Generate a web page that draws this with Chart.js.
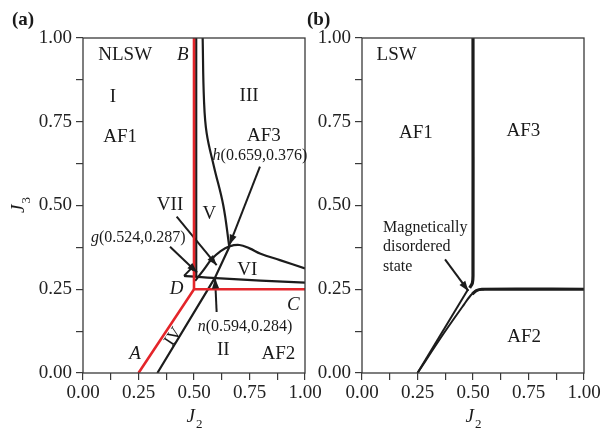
<!DOCTYPE html>
<html>
<head>
<meta charset="utf-8">
<script src="https://cdn.jsdelivr.net/npm/chart.js@4.4.1/dist/chart.umd.min.js"></script>
<style>
  body { margin: 0; background: #fff; width: 606px; height: 431px; position: relative; overflow: hidden; }
  canvas { position: absolute; top: 0; }
  #chartA { left: 0; }
  #chartB { left: 300px; }
</style>
</head>
<body>
<canvas id="chartA" width="330" height="431"></canvas>
<canvas id="chartB" width="306" height="431"></canvas>
<script>
// ---------------------------------------------------------------
// data (J2, J3)
// ---------------------------------------------------------------
const tickValues = [0, 0.125, 0.25, 0.375, 0.5, 0.625, 0.75, 0.875, 1];

// (a) classical boundaries (red)
const redADC = [[0.25, 0], [0.5, 0.25], [1, 0.25]];
const redDB  = [[0.5, 0.25], [0.5, 1]];

// (a) NLSW boundaries (black)
const nlswDiag   = [[0.335, 0], [0.594, 0.284], [0.659, 0.376]];
const nlswTop    = [[0.659, 0.376], [0.632, 0.5], [0.59, 0.616], [0.557, 0.716], [0.545, 0.815], [0.539, 1]];
const nlswVert   = [[0.51, 1], [0.51, 0.288]];
const nlswTri    = [[0.455, 0.29], [0.487, 0.312], [0.51, 0.3]];
const nlswVIlow  = [[0.455, 0.29], [0.6, 0.283], [0.8, 0.276], [1, 0.27]];
const nlswVIhigh = [[0.505, 0.275], [0.54, 0.305], [0.58, 0.34], [0.62, 0.364], [0.66, 0.378], [0.705, 0.382], [0.75, 0.372], [0.8, 0.356], [0.887, 0.337], [1, 0.312]];

// (a) label pointers
const arrowH   = [[0.797, 0.616], [0.66, 0.383]];
const arrowVII = [[0.422, 0.467], [0.602, 0.322]];
const arrowG   = [[0.392, 0.377], [0.514, 0.3]];
const arrowN   = [[0.602, 0.182], [0.595, 0.282]];

// (b) LSW boundaries
const lswVert  = [[0.5, 1], [0.5, 0.29], [0.497, 0.268], [0.485, 0.254]];
const lswHoriz = [[1, 0.25], [0.54, 0.25], [0.515, 0.246], [0.497, 0.236]];
const lswDiagL = [[0.25, 0], [0.478, 0.25]];
const lswDiagR = [[0.25, 0], [0.37, 0.12], [0.46, 0.205], [0.49, 0.232], [0.515, 0.246], [0.55, 0.25]];
const arrowMag = [[0.374, 0.339], [0.479, 0.245]];

const RED = "#e4252a";
const BLACK = "#1c1c1c";
const SERIF = "'Liberation Serif', 'Times New Roman', serif";

function pts(arr) { return arr.map(p => ({ x: p[0], y: p[1] })); }

function line(arr, color, width, tension, arrow) {
  return {
    data: pts(arr),
    borderColor: color,
    borderWidth: width,
    pointRadius: 0,
    fill: false,
    tension: tension || 0,
    arrow: !!arrow
  };
}

// rich text: parts = [{t, it}]
function drawRich(ctx, parts, x, y, size, align) {
  let w = 0;
  parts.forEach(p => {
    ctx.font = (p.it ? "italic " : "") + size + "px " + SERIF;
    w += ctx.measureText(p.t).width;
  });
  let cx = align === "left" ? x : x - w / 2;
  ctx.textAlign = "left";
  parts.forEach(p => {
    ctx.font = (p.it ? "italic " : "") + size + "px " + SERIF;
    ctx.fillText(p.t, cx, y);
    cx += ctx.measureText(p.t).width;
  });
}

function drawSub(ctx, main, sub, x, y) {
  ctx.font = "italic 19px " + SERIF;
  const w1 = ctx.measureText(main).width;
  ctx.font = "13px " + SERIF;
  const w2 = ctx.measureText(sub).width;
  const x0 = x - (w1 + w2) / 2;
  ctx.textAlign = "left";
  ctx.font = "italic 19px " + SERIF;
  ctx.fillText(main, x0, y);
  ctx.font = "13px " + SERIF;
  ctx.fillText(sub, x0 + w1 + 1, y + 6);
}

function makeDeco(labels, extra) {
  return {
    id: "deco",
    afterDatasetsDraw(chart) {
      const { ctx, chartArea: a, scales } = chart;
      const sx = scales.x, sy = scales.y;
      ctx.save();
      // arrow heads
      chart.data.datasets.forEach((ds, i) => {
        if (!ds.arrow) return;
        const el = chart.getDatasetMeta(i).data;
        const p1 = el[el.length - 2], p2 = el[el.length - 1];
        const ang = Math.atan2(p2.y - p1.y, p2.x - p1.x);
        const L = 10, W = 3.6;
        ctx.fillStyle = ds.borderColor;
        ctx.beginPath();
        ctx.moveTo(p2.x, p2.y);
        ctx.lineTo(p2.x - L * Math.cos(ang) + W * Math.sin(ang), p2.y - L * Math.sin(ang) - W * Math.cos(ang));
        ctx.lineTo(p2.x - L * Math.cos(ang) - W * Math.sin(ang), p2.y - L * Math.sin(ang) + W * Math.cos(ang));
        ctx.closePath();
        ctx.fill();
      });
      // frame
      ctx.strokeStyle = "#3a3a3a";
      ctx.lineWidth = 1.3;
      ctx.strokeRect(a.left, a.top, a.right - a.left, a.bottom - a.top);
      // in-plot labels
      ctx.fillStyle = "#1a1a1a";
      ctx.textBaseline = "middle";
      labels.forEach(l => {
        const px = sx.getPixelForValue(l.x), py = sy.getPixelForValue(l.y);
        const parts = l.parts || [{ t: l.t, it: l.it }];
        if (l.rot) {
          ctx.save();
          ctx.translate(px, py);
          ctx.rotate(l.rot * Math.PI / 180);
          drawRich(ctx, parts, 0, 0, l.size || 19, "center");
          ctx.restore();
        } else {
          drawRich(ctx, parts, px, py, l.size || 19, l.align);
        }
      });
      // axis titles
      ctx.textBaseline = "alphabetic";
      drawSub(ctx, "J", "2", (a.left + a.right) / 2, 422);
      if (extra.yTitle) {
        ctx.save();
        ctx.translate(24, (a.top + a.bottom) / 2);
        ctx.rotate(-Math.PI / 2);
        drawSub(ctx, "J", "3", 0, 0);
        ctx.restore();
      }
      // panel tag
      ctx.font = "bold 19px " + SERIF;
      ctx.textAlign = "left";
      ctx.fillText(extra.tag, extra.tagX, 25);
      ctx.restore();
    }
  };
}

function makeOptions(yWidth, padRight) {
  const tickFont = { family: SERIF, size: 19 };
  const fmt = v => (Math.round(v * 8) % 2 === 0 ? v.toFixed(2) : "");
  const grid = { drawOnChartArea: false, drawTicks: true, tickLength: 7, color: "#3a3a3a", lineWidth: 1.2 };
  return {
    responsive: false,
    animation: false,
    devicePixelRatio: 1,
    layout: { padding: { top: 38, right: padRight, left: 0, bottom: 0 } },
    plugins: { legend: { display: false }, tooltip: { enabled: false } },
    scales: {
      x: {
        type: "linear", min: 0, max: 1,
        afterBuildTicks: s => { s.ticks = tickValues.map(v => ({ value: v })); },
        afterFit: s => { s.height = 58; s.paddingLeft = 0; s.paddingRight = 0; },
        ticks: { callback: fmt, font: tickFont, color: "#222", autoSkip: false, maxRotation: 0, padding: 2 },
        grid: grid,
        border: { display: false }
      },
      y: {
        type: "linear", min: 0, max: 1,
        afterBuildTicks: s => { s.ticks = tickValues.map(v => ({ value: v })); },
        afterFit: s => { s.width = yWidth; s.paddingTop = 0; s.paddingBottom = 0; },
        ticks: { callback: fmt, font: tickFont, color: "#222", autoSkip: false, padding: 4 },
        grid: grid,
        border: { display: false }
      }
    }
  };
}

// ---------------------------------------------------------------
// panel (a): NLSW
// ---------------------------------------------------------------
const labelsA = [
  { t: "NLSW", x: 0.19, y: 0.95 },
  { t: "B", it: true, x: 0.45, y: 0.95 },
  { t: "I", x: 0.135, y: 0.824 },
  { t: "AF1", x: 0.167, y: 0.704 },
  { t: "III", x: 0.748, y: 0.827 },
  { t: "AF3", x: 0.815, y: 0.707 },
  { parts: [{ t: "h", it: true }, { t: "(0.659,0.376)" }], x: 0.797, y: 0.648, size: 16 },
  { t: "VII", x: 0.392, y: 0.501 },
  { t: "V", x: 0.569, y: 0.475 },
  { parts: [{ t: "g", it: true }, { t: "(0.524,0.287)" }], x: 0.249, y: 0.405, size: 16 },
  { t: "VI", x: 0.74, y: 0.307 },
  { t: "D", it: true, x: 0.422, y: 0.25 },
  { t: "C", it: true, x: 0.947, y: 0.203 },
  { parts: [{ t: "n", it: true }, { t: "(0.594,0.284)" }], x: 0.73, y: 0.138, size: 16 },
  { t: "IV", x: 0.407, y: 0.108, rot: -56, size: 17 },
  { t: "A", it: true, x: 0.234, y: 0.057 },
  { t: "II", x: 0.632, y: 0.069 },
  { t: "AF2", x: 0.88, y: 0.057 }
];

new Chart(document.getElementById("chartA").getContext("2d"), {
  type: "line",
  data: {
    datasets: [
      line(redADC, RED, 2.6),
      line(redDB, RED, 2.6),
      line(nlswVert, BLACK, 2.2),
      line(nlswTri, BLACK, 2),
      line(nlswDiag, BLACK, 2.2),
      line(nlswTop, BLACK, 2.2, 0.4),
      line(nlswVIlow, BLACK, 2.2, 0.3),
      line(nlswVIhigh, BLACK, 2.2, 0.4),
      line(arrowH, BLACK, 2, 0, true),
      line(arrowVII, BLACK, 2, 0, true),
      line(arrowG, BLACK, 2, 0, true),
      line(arrowN, BLACK, 2, 0, true)
    ]
  },
  options: makeOptions(83, 25),
  plugins: [makeDeco(labelsA, { yTitle: true, tag: "(a)", tagX: 12 })]
});

// ---------------------------------------------------------------
// panel (b): LSW
// ---------------------------------------------------------------
const labelsB = [
  { t: "LSW", x: 0.156, y: 0.949 },
  { t: "AF1", x: 0.243, y: 0.715 },
  { t: "AF3", x: 0.727, y: 0.722 },
  { t: "AF2", x: 0.73, y: 0.107 },
  { t: "Magnetically", x: 0.095, y: 0.433, size: 16, align: "left" },
  { t: "disordered", x: 0.095, y: 0.376, size: 16, align: "left" },
  { t: "state", x: 0.095, y: 0.317, size: 16, align: "left" }
];

new Chart(document.getElementById("chartB").getContext("2d"), {
  type: "line",
  data: {
    datasets: [
      line(lswVert, BLACK, 3.2, 0.3),
      line(lswHoriz, BLACK, 3.2, 0.3),
      line(lswDiagL, BLACK, 2),
      line(lswDiagR, BLACK, 2, 0.3),
      line(arrowMag, BLACK, 2, 0, true)
    ]
  },
  options: makeOptions(62, 22),
  plugins: [makeDeco(labelsB, { yTitle: false, tag: "(b)", tagX: 7 })]
});
</script>
</body>
</html>
